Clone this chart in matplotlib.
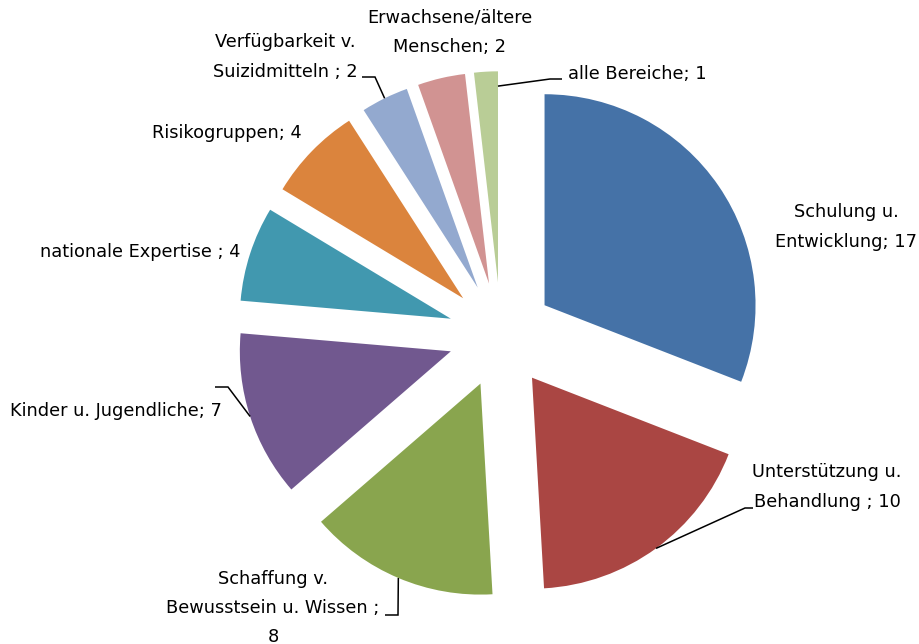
import matplotlib
matplotlib.use("Agg")
import matplotlib.pyplot as plt
import numpy as np

# ---- data ----
categories = [
    "Schulung u.\nEntwicklung",
    "Unterstützung u.\nBehandlung ",
    "Schaffung v.\nBewusstsein u. Wissen ",
    "Kinder u. Jugendliche",
    "nationale Expertise ",
    "Risikogruppen",
    "Verfügbarkeit v.\nSuizidmitteln ",
    "Erwachsene/ältere\nMenschen",
    "alle Bereiche",
]
values = [17, 10, 8, 7, 4, 4, 2, 2, 1]
colors = ["#4572A7", "#AA4643", "#89A54E", "#71588F", "#4198AF",
          "#DB843D", "#93A9CF", "#D19392", "#B9CD96"]

# ---- layout (pixel space of the 920x644 image) ----
W, H = 920, 644
CX, CY, R = 501, 335, 211

def px(x, y):
    return ((x - CX) / R, (CY - y) / R)

plt.rcParams['font.family'] = ['DejaVu Sans']
fig = plt.figure(figsize=(W / 100, H / 100), dpi=100)
ax = fig.add_axes([0, 0, 1, 1])

wedges, _ = ax.pie(values, colors=colors, startangle=90, counterclock=False,
                   explode=[0.25] * len(values), radius=1,
                   wedgeprops=dict(linewidth=0))
ax.set_xlim(-CX / R, (W - CX) / R)
ax.set_ylim((CY - H) / R, CY / R)
ax.set_aspect('auto')
ax.axis('off')

seps = ["; ", "; ", ";\n", "; ", "; ", "; ", "; ", "; ", "; "]
# label placement: (x_px, y_px, ha)
label_pos = [
    (846, 227, "center"),
    (827, 487, "center"),
    (273, 608, "center"),
    (10, 411, "left"),
    (40, 252, "left"),
    (152, 133, "left"),
    (285, 57, "center"),
    (450, 32, "center"),
    (568, 74, "left"),
]
# leader lines: index -> (angle fraction in wedge, radius fraction, elbow px, end px)
leaders = {
    1: (0.5, 1.0, (745, 508), (753, 508)),
    2: (0.5, 1.0, (398, 615), (385, 615)),
    3: (0.5, 1.0, (228, 387), (215, 387)),
    6: (0.5, 1.0, (375, 77), (362, 77)),
    8: (0.0, 0.93, (550, 79), (562, 79)),
}

for i, (cat, v) in enumerate(zip(categories, values)):
    x, y, ha = label_pos[i]
    ax.text(*px(x, y), f"{cat}{seps[i]}{v}", ha=ha, va="center",
            fontsize=12.8, color="#000000", linespacing=1.8,
            multialignment="center")

for i, (af, rf, elbow, end) in leaders.items():
    w = wedges[i]
    ang = np.deg2rad(w.theta1 + af * (w.theta2 - w.theta1))
    sx = w.center[0] + rf * w.r * np.cos(ang)
    sy = w.center[1] + rf * w.r * np.sin(ang)
    ex, ey = px(*elbow)
    tx, ty = px(*end)
    ax.plot([sx, ex, tx], [sy, ey, ty], color="black", lw=1.1,
            solid_capstyle="butt", solid_joinstyle="miter")

fig.savefig("out.png", dpi=100)
